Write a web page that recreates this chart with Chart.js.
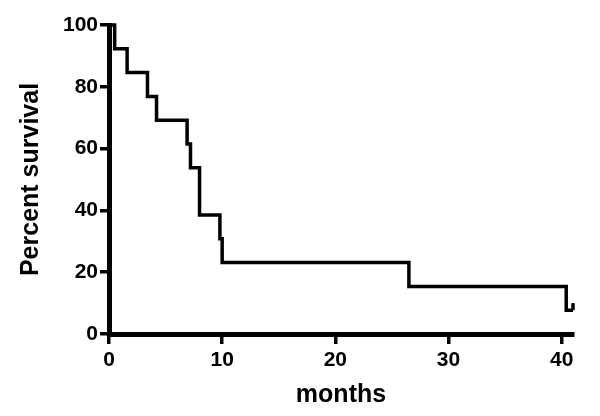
<!DOCTYPE html>
<html lang="en-US">
<head>
  <meta charset="utf-8">
  <title>Percent survival</title>
  <script src="https://cdn.jsdelivr.net/npm/chart.js@4.4.1/dist/chart.umd.min.js"></script>
  <style>
  html, body { margin: 0; padding: 0; background: #fff; }
  #wrap { width: 600px; height: 416px; }
  </style>
</head>
<body>
<div id="wrap"><canvas id="km" width="600" height="416"></canvas></div>
<script>
// Kaplan-Meier steps
var months   = [0, 0.5, 1.6, 3.4, 4.2, 6.9, 7.2, 8.0, 9.8, 10.0, 26.5, 40.4, 41.0];
var survival = [100, 92.3, 84.6, 76.9, 69.2, 61.5, 53.8, 38.5, 30.8, 23.1, 15.4, 7.7, 7.7];
// censored mark at the end of follow-up
var censorX = [41.0, 41.0];
var censorY = [7.7, 10.0];
var xTicks = [0, 10, 20, 30, 40];
var yTicks = [0, 20, 40, 60, 80, 100];

var tickFont = { family: 'Liberation Sans, Arial, sans-serif', size: 21, weight: 'bold' };
var titleFont = { family: 'Liberation Sans, Arial, sans-serif', size: 25, weight: 'bold' };

function pts(xs, ys) {
  return xs.map(function(x, i) { return { x: x, y: ys[i] }; });
}

new Chart(document.getElementById('km').getContext('2d'), {
  type: 'line',
  data: {
    datasets: [{
      data: pts(months, survival),
      stepped: true,
      borderColor: '#000',
      borderWidth: 3.5,
      pointRadius: 0,
      fill: false,
      clip: false
    }, {
      data: pts(censorX, censorY),
      borderColor: '#000',
      borderWidth: 3.5,
      pointRadius: 0,
      fill: false,
      clip: false
    }]
  },
  options: {
    responsive: false,
    animation: false,
    layout: { padding: { top: 25, right: 27, left: 0, bottom: 0 } },
    plugins: { legend: { display: false }, tooltip: { enabled: false } },
    scales: {
      x: {
        type: 'linear',
        min: 0,
        max: 41,
        afterFit: function(s) { s.height = 82; },
        afterBuildTicks: function(s) { s.ticks = xTicks.map(function(v) { return { value: v }; }); },
        ticks: { color: '#000', font: tickFont, padding: 4, maxRotation: 0 },
        grid: { drawOnChartArea: false, drawTicks: true, tickLength: 10, color: '#000', lineWidth: 3.5 },
        border: { color: '#000', width: 5 },
        title: { display: true, text: 'months', color: '#000', font: titleFont, padding: 6 }
      },
      y: {
        min: 0,
        max: 100,
        afterFit: function(s) { s.width = 109; },
        afterBuildTicks: function(s) { s.ticks = yTicks.map(function(v) { return { value: v }; }); },
        ticks: { color: '#000', font: tickFont, padding: 2 },
        grid: { drawOnChartArea: false, drawTicks: true, tickLength: 9, color: '#000', lineWidth: 3.5 },
        border: { color: '#000', width: 5 },
        title: { display: true, text: 'Percent survival', color: '#000', font: titleFont, padding: 16 }
      }
    }
  }
});
</script>
</body>
</html>
